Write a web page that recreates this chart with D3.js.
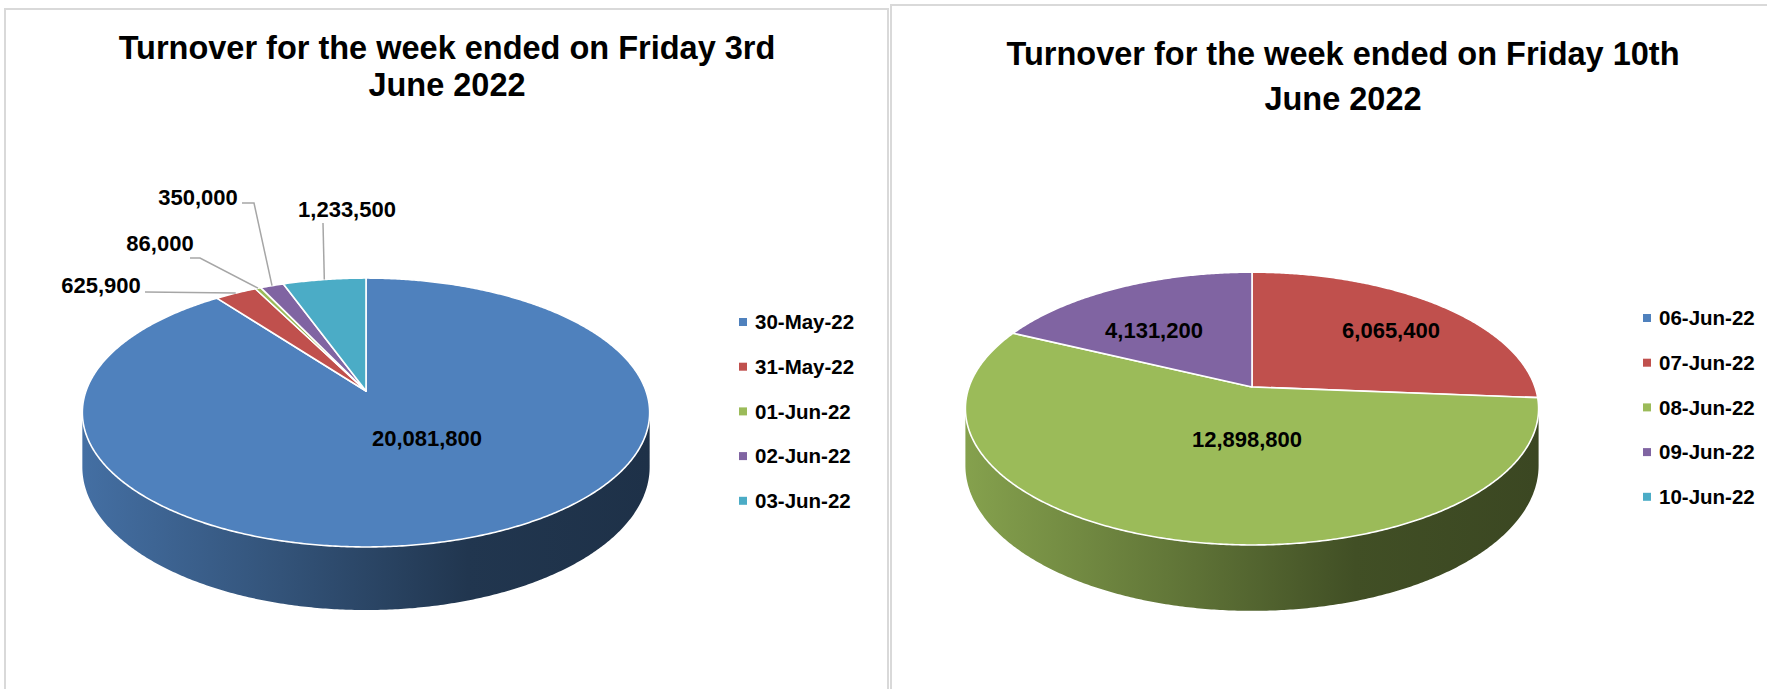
<!DOCTYPE html>
<html>
<head>
<meta charset="utf-8">
<script src="https://cdn.jsdelivr.net/npm/d3@7"></script>
<style>
  body { margin: 0; background: #fff; }
  text { font-family: "Liberation Sans", Arial, sans-serif; font-weight: bold; fill: #000; }
</style>
</head>
<body>
<svg id="chart" width="1767" height="689"></svg>
<script>
// data
const leftDates = ["30-May-22", "31-May-22", "01-Jun-22", "02-Jun-22", "03-Jun-22"];
const leftValues = [20081800, 625900, 86000, 350000, 1233500];
const leftTitle = ["Turnover for the week ended on Friday 3rd", "June 2022"];

const rightDates = ["06-Jun-22", "07-Jun-22", "08-Jun-22", "09-Jun-22", "10-Jun-22"];
const rightValues = [0, 6065400, 12898800, 4131200, 0];
const rightTitle = ["Turnover for the week ended on Friday 10th", "June 2022"];

const sliceColors = ["#4f81bd", "#c0504d", "#9bbb59", "#8064a2", "#4bacc6"];

const svg = d3.select("svg#chart");
const defs = svg.append("defs");
const fmt = d3.format(",");

// panel frames
svg.append("rect")
    .attr("x", 5).attr("y", 9).attr("width", 883).attr("height", 700)
    .attr("fill", "#fff").attr("stroke", "#d9d9d9").attr("stroke-width", 2);
svg.append("rect")
    .attr("x", 891).attr("y", 5).attr("width", 900).attr("height", 700)
    .attr("fill", "#fff").attr("stroke", "#d9d9d9").attr("stroke-width", 2);

// layout of each panel (positions only)
const leftLayout = {
  id: "l", cx: 366, cy: 391, rx: 280, ry: 131, k: 0.16, depth: 53,
  titleX: 447, titleY: [59, 96],
  legendX: 739, legendY: 322, legendStep: 44.7,
  // label centre, then optional knee points for the leader line
  labels: [
    { x: 427, y: 438 },
    { x: 101, y: 285, lead: [[145, 292]] },
    { x: 160, y: 243, lead: [[190, 258], [200, 258]] },
    { x: 198, y: 197, lead: [[242, 203], [254, 203]] },
    { x: 347, y: 209, lead: [[323, 223]] }
  ]
};
const rightLayout = {
  id: "r", cx: 1252, cy: 387, rx: 283, ry: 133, k: 0.158, depth: 55.5,
  titleX: 1343, titleY: [65, 110],
  legendX: 1643, legendY: 318, legendStep: 44.7,
  labels: [
    null,
    { x: 1391, y: 330 },
    { x: 1247, y: 439 },
    { x: 1154, y: 330 },
    null
  ]
};

function project(p, a, dz) {
  const u = Math.sin(a), v = -Math.cos(a);
  const s = 1 / (1 - p.k * v);
  return [p.cx + p.rx * u * s, p.cy + (p.ry * v + (dz || 0)) * s];
}

function rim(p, a0, a1, dz) {
  const n = Math.max(2, Math.ceil((a1 - a0) / (Math.PI / 360)));
  return d3.range(n + 1).map(i => project(p, a0 + (a1 - a0) * i / n, dz));
}

const line = d3.line();

function drawPie(values, dates, title, p) {
  const g = svg.append("g");
  const arcs = d3.pie().sort(null).value(d => d).startAngle(0).endAngle(2 * Math.PI)(values);

  // silhouette angles for the visible side wall
  let aR = 0, aL = Math.PI, xMax = -1e9, xMin = 1e9;
  for (let a = 0; a <= Math.PI; a += 0.001) {
    const x = project(p, a)[0];
    if (x > xMax) { xMax = x; aR = a; }
  }
  for (let a = Math.PI; a <= 2 * Math.PI; a += 0.001) {
    const x = project(p, a)[0];
    if (x < xMin) { xMin = x; aL = a; }
  }

  // side gradients
  sliceColors.forEach((c, i) => {
    const base = d3.rgb(c);
    const grad = defs.append("linearGradient")
        .attr("id", "side-" + p.id + i)
        .attr("gradientUnits", "userSpaceOnUse")
        .attr("x1", xMin).attr("x2", xMax).attr("y1", 0).attr("y2", 0);
    [[0, 0.86], [0.35, 0.64], [0.68, 0.42], [1, 0.38]].forEach(([o, m]) => {
      grad.append("stop").attr("offset", o)
          .attr("stop-color", d3.rgb(base.r * m, base.g * m, base.b * m));
    });
  });

  // side walls
  arcs.forEach(d => {
    const a0 = Math.max(d.startAngle, aR), a1 = Math.min(d.endAngle, aL);
    if (a1 <= a0) return;
    const pts = rim(p, a0, a1, 0).concat(rim(p, a0, a1, p.depth).reverse());
    g.append("path")
        .attr("d", line(pts) + "Z")
        .attr("fill", "url(#side-" + p.id + d.index + ")");
  });

  // top faces
  arcs.filter(d => d.value > 0).forEach(d => {
    const pts = [[p.cx, p.cy]].concat(rim(p, d.startAngle, d.endAngle, 0));
    g.append("path")
        .attr("d", line(pts) + "Z")
        .attr("fill", sliceColors[d.index])
        .attr("stroke", "#fff")
        .attr("stroke-width", 1.6)
        .attr("stroke-linejoin", "round");
  });

  // leader lines and labels
  arcs.forEach(d => {
    const lab = p.labels[d.index];
    if (!lab || d.value === 0) return;
    if (lab.lead) {
      const end = project(p, (d.startAngle + d.endAngle) / 2, 0);
      g.append("path")
          .attr("d", line(lab.lead.concat([end])))
          .attr("fill", "none")
          .attr("stroke", "#a6a6a6")
          .attr("stroke-width", 1.5);
    }
    g.append("text")
        .attr("x", lab.x).attr("y", lab.y)
        .attr("dy", "0.36em")
        .attr("text-anchor", "middle")
        .style("font-size", "22px")
        .text(fmt(d.value));
  });

  // legend
  const leg = g.selectAll(".leg").data(dates).enter().append("g")
      .attr("transform", (d, i) => `translate(${p.legendX},${p.legendY + i * p.legendStep})`);
  leg.append("rect")
      .attr("x", 0).attr("y", -4).attr("width", 8).attr("height", 8)
      .attr("fill", (d, i) => sliceColors[i]);
  leg.append("text")
      .attr("x", 16).attr("dy", "0.36em")
      .style("font-size", "20.5px")
      .text(d => d);

  // title
  title.forEach((t, i) => {
    g.append("text")
        .attr("x", p.titleX).attr("y", p.titleY[i])
        .attr("text-anchor", "middle")
        .style("font-size", "32.5px")
        .text(t);
  });
}

drawPie(leftValues, leftDates, leftTitle, leftLayout);
drawPie(rightValues, rightDates, rightTitle, rightLayout);
</script>
</body>
</html>
